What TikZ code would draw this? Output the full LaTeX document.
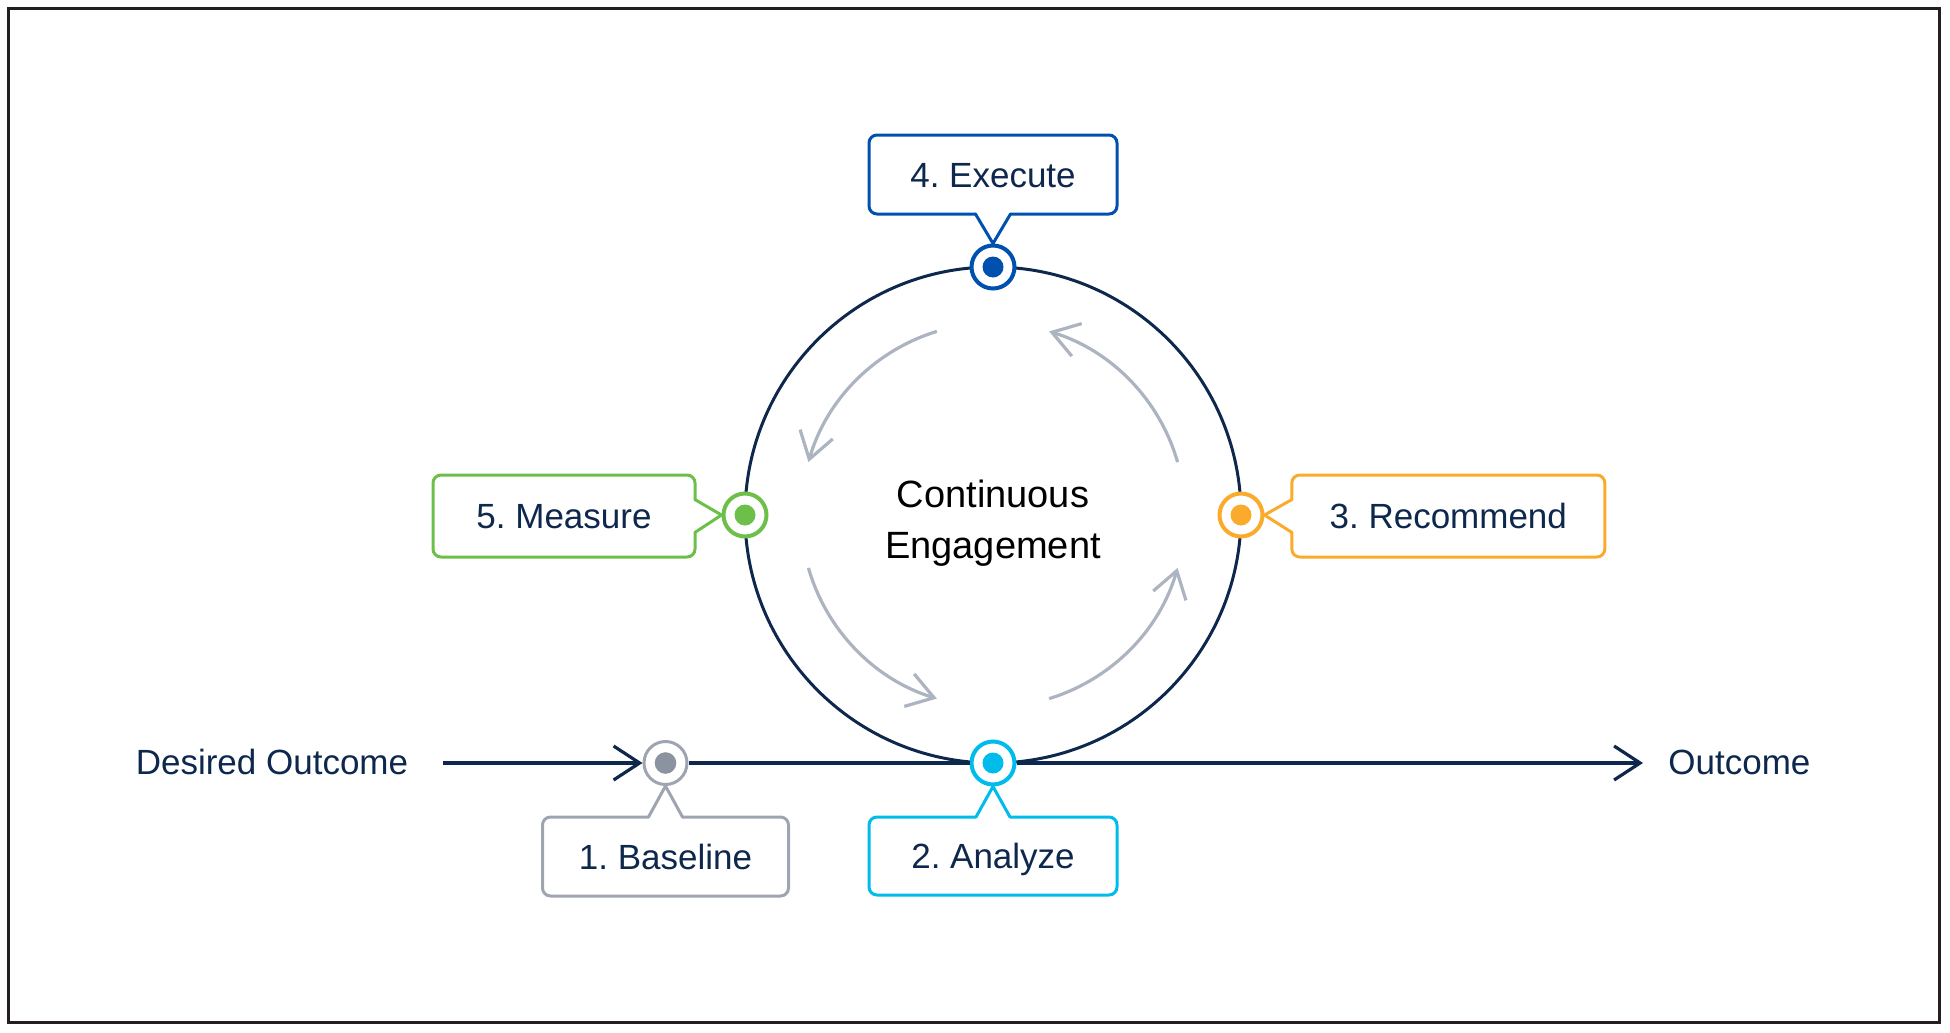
\documentclass[tikz,border=0pt]{standalone}
\usepackage{fontspec}
\setmainfont{Liberation Sans}
\usetikzlibrary{arrows.meta}
\definecolor{navy}{HTML}{0D274D}
\definecolor{frame}{HTML}{231F20}
\definecolor{cone}{HTML}{9EA5B1}
\definecolor{conedot}{HTML}{8B93A0}
\definecolor{ctwo}{HTML}{00BCEB}
\definecolor{cthree}{HTML}{FBAB2C}
\definecolor{cfour}{HTML}{0051AF}
\definecolor{cfive}{HTML}{6CC04A}
\definecolor{arrowgrey}{HTML}{ACB3C1}
\frenchspacing
\begin{document}
\begin{tikzpicture}[x=0.5pt,y=-0.5pt,
  ring/.style={circle, draw, fill=white, line width=2pt, minimum size=21.5pt, inner sep=0pt},
  box/.style={inner sep=0pt, outer sep=0pt, text=navy, font=\fontsize{17.5pt}{21pt}\selectfont, text height=12.5pt, text depth=0pt},
  outline/.style={line width=1.5pt, rounded corners=4pt, line cap=round},
  tail/.style={line width=1.5pt, line join=round, line cap=round},
  mainline/.style={draw=navy, line width=1.6pt},
  maintip/.style={-{Straight Barb[length=13pt,width=17pt]}},
  cycarrow/.style={draw=arrowgrey, line width=1.6pt, -{Straight Barb[length=13pt,width=17pt]}},
  lbl/.style={text=navy, font=\fontsize{17.5pt}{21pt}\selectfont, inner sep=0pt}
]
\useasboundingbox (0,0) rectangle (1950,1033);
\draw[line width=1.65pt, draw=frame] (8.7,8.7) rectangle (1939.5,1022.5);

% main cycle
\node[circle, draw=navy, line width=1.5pt, minimum size=248pt, inner sep=0pt] (cyc) at (993,515) {};

% inner cycle arrows
\draw[cycarrow] ([shift={(cyc.center)}]16:96pt) arc[start angle=16, end angle=73, radius=96pt];
\draw[cycarrow] ([shift={(cyc.center)}]107:96pt) arc[start angle=107, end angle=164, radius=96pt];
\draw[cycarrow] ([shift={(cyc.center)}]196:96pt) arc[start angle=196, end angle=253, radius=96pt];
\draw[cycarrow] ([shift={(cyc.center)}]287:96pt) arc[start angle=287, end angle=344, radius=96pt];

% step markers
\node[ring, draw=cone, line width=1.5pt] (n1) at (665.5,763) {};
\node[ring, draw=ctwo] (n2) at (993,763) {};
\node[ring, draw=cthree] (n3) at (1241,515) {};
\node[ring, draw=cfour] (n4) at (993,267) {};
\node[ring, draw=cfive] (n5) at (745,515) {};
\fill[conedot] (n1.center) circle[radius=5.4pt];
\fill[ctwo] (n2.center) circle[radius=5.25pt];
\fill[cthree] (n3.center) circle[radius=5.25pt];
\fill[cfour] (n4.center) circle[radius=5.25pt];
\fill[cfive] (n5.center) circle[radius=5.25pt];

% callout boxes
\node[box, minimum width=123pt, minimum height=39.5pt] (t1) at (665.5,856.5) {1. Baseline};
\node[box, minimum width=124pt, minimum height=39pt] (t2) at (993,856) {2. Analyze};
\node[box, minimum width=156.5pt, minimum height=41pt] (t3) at (1448.3,516) {3. Recommend};
\node[box, minimum width=124pt, minimum height=39.5pt] (t4) at (993,174.5) {4. Execute};
\node[box, minimum width=131pt, minimum height=41pt] (t5) at (564,516) {5. Measure};

% outlines
\draw[outline, draw=cone] ([xshift=8.5pt]t1.north) -- (t1.north east) -- (t1.south east) -- (t1.south west) -- (t1.north west) -- ([xshift=-8.5pt]t1.north);
\draw[tail, draw=cone] ([xshift=-8.5pt]t1.north) -- (n1.south) -- ([xshift=8.5pt]t1.north);

\draw[outline, draw=ctwo] ([xshift=8.5pt]t2.north) -- (t2.north east) -- (t2.south east) -- (t2.south west) -- (t2.north west) -- ([xshift=-8.5pt]t2.north);
\draw[tail, draw=ctwo] ([xshift=-8.5pt]t2.north) -- (n2.south) -- ([xshift=8.5pt]t2.north);

\draw[outline, draw=cthree] ([yshift=8.2pt]t3.west) -- (t3.north west) -- (t3.north east) -- (t3.south east) -- (t3.south west) -- ([yshift=-8.2pt]t3.west);
\draw[tail, draw=cthree] ([yshift=-8.2pt]t3.west) -- (n3.east) -- ([yshift=8.2pt]t3.west);

\draw[outline, draw=cfour] ([xshift=8.75pt]t4.south) -- (t4.south east) -- (t4.north east) -- (t4.north west) -- (t4.south west) -- ([xshift=-8.75pt]t4.south);
\draw[tail, draw=cfour] ([xshift=-8.75pt]t4.south) -- (n4.north) -- ([xshift=8.75pt]t4.south);

\draw[outline, draw=cfive] ([yshift=8.2pt]t5.east) -- (t5.north east) -- (t5.north west) -- (t5.south west) -- (t5.south east) -- ([yshift=-8.2pt]t5.east);
\draw[tail, draw=cfive] ([yshift=-8.2pt]t5.east) -- (n5.west) -- ([yshift=8.2pt]t5.east);

% outcome line
\coordinate (din) at (443,763);
\coordinate (dout) at (1643,763);
\draw[mainline, maintip] (din) -- (n1);
\draw[mainline] (n1) -- (n2);
\draw[mainline, maintip] (n2) -- (dout);

\node[lbl, anchor=base] (desired) at (272,774) {Desired Outcome};
\node[lbl, anchor=base west] (outc) at (1668,774) {Outcome};

\node[font=\fontsize{19pt}{25.5pt}\selectfont, align=center, text=black, inner sep=0pt] (ce) at (993,523) {Continuous\\Engagement};
\end{tikzpicture}
\end{document}
